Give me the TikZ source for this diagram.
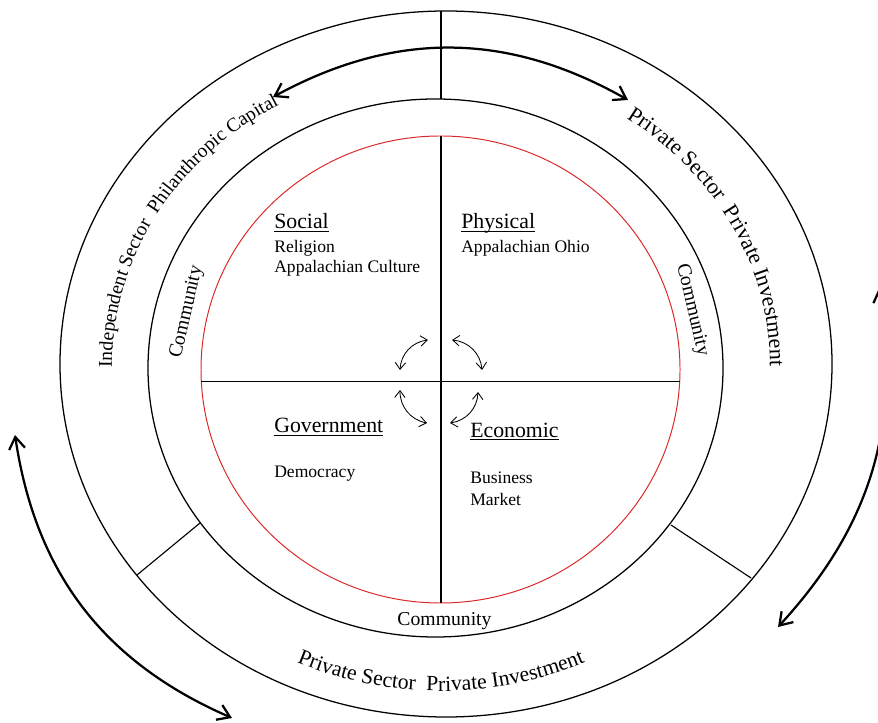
\documentclass[tikz,border=0pt]{standalone}
\usepackage{fontspec}
\setmainfont{Liberation Serif}
\usetikzlibrary{arrows.meta,decorations.text}

\definecolor{ringred}{RGB}{220,40,40}

\newcommand{\headfont}{\fontsize{15.5}{18}\selectfont}
\newcommand{\itemfont}{\fontsize{12.5}{15}\selectfont}
\newcommand{\commfont}{\fontsize{14}{16}\selectfont}
\newcommand{\sectorfontA}{\fontsize{13.9}{16}\selectfont}
\newcommand{\sectorfontB}{\fontsize{15.6}{18}\selectfont}
\newcommand{\sectorfontC}{\fontsize{15.4}{18}\selectfont}

\tikzset{
  ring/.style={draw=black, line width=0.9pt},
  innerring/.style={draw=ringred, line width=0.7pt},
  divider/.style={draw=black, line width=0.8pt},
  bigarrow/.style={line width=1.6pt,
    {Straight Barb[length=3mm,width=4mm]}-{Straight Barb[length=3mm,width=4mm]}},
  smallarrow/.style={line width=0.6pt,
    {Straight Barb[length=1.7mm,width=2.6mm]}-{Straight Barb[length=1.7mm,width=2.6mm]}},
  head/.style={anchor=base west, inner sep=0pt, font=\headfont},
  item/.style={anchor=base west, inner sep=0pt, font=\itemfont},
  community/.style={inner sep=0pt, font=\commfont},
}

\begin{document}
\begin{tikzpicture}[x=0.025cm, y=0.025cm]
\useasboundingbox (0,0) rectangle (878,722);

% centres of the rings
\coordinate (cin) at (440.5,352.5);
\coordinate (cmid) at (435.5,354);
\coordinate (cout) at (446,358);
\coordinate (ctxt) at (441,356);

\draw[ring] (cout) ellipse [x radius=386, y radius=353];
\draw[ring] (cmid) ellipse [x radius=287.5, y radius=269];
\draw[innerring] (cin) ellipse [x radius=239.5, y radius=233.5];

% the four fields
\coordinate (qtop) at (441,586);
\coordinate (qbot) at (441,119);
\coordinate (qleft) at (201,340.5);
\coordinate (qright) at (680,340.5);
\draw[divider] (qtop) -- (qbot);
\draw[divider] (qleft) -- (qright);

% sector borders in the outer ring
\coordinate (dtopin) at (441,623);
\coordinate (dtopout) at (441,711);
\coordinate (dleftin) at (200,199);
\coordinate (dleftout) at (137,147);
\coordinate (drightin) at (671,197);
\coordinate (drightout) at (751,144);
\draw[divider] (dtopin) -- (dtopout);
\draw[divider] (dleftin) -- (dleftout);
\draw[divider] (drightin) -- (drightout);

% flows between the sectors
\coordinate (atopL) at (273,625);
\coordinate (atopR) at (628,622);
\draw[bigarrow] (atopL) to[bend left=29] (atopR);
\coordinate (aleftT) at (15,287);
\coordinate (aleftB) at (232,4);
\draw[bigarrow] (aleftT) to[bend right=29] (aleftB);
\coordinate (arightT) at (879,434);
\coordinate (arightB) at (778,95);
\draw[bigarrow] (arightT) to[bend left=26] (arightB);

% links between the fields
\coordinate (sNWa) at (428,382);
\coordinate (sNWb) at (400,352);
\draw[smallarrow] (sNWa) to[bend right=40] (sNWb);
\coordinate (sNEa) at (452,382);
\coordinate (sNEb) at (482,352);
\draw[smallarrow] (sNEa) to[bend left=40] (sNEb);
\coordinate (sSWa) at (400,332);
\coordinate (sSWb) at (427,299);
\draw[smallarrow] (sSWa) to[bend right=40] (sSWb);
\coordinate (sSEa) at (478,330);
\coordinate (sSEb) at (450,299);
\draw[smallarrow] (sSEa) to[bend left=40] (sSEb);

% field labels
\node[head] (social) at (274,493) {\underline{\smash{Social}}};
\node[item] (religion) at (274,469) {Religion};
\node[item] (culture) at (274,449) {Appalachian Culture};
\node[head] (physical) at (461,493) {\underline{\smash{Physical}}};
\node[item] (ohio) at (461,469) {Appalachian Ohio};
\node[head] (government) at (274,289) {\underline{\smash{Government}}};
\node[item] (democracy) at (274,244) {Democracy};
\node[head] (economic) at (470,284.5) {\underline{\smash{Economic}}};
\node[item] (business) at (470,238) {Business};
\node[item] (market) at (470,216) {Market};

% community ring
\node[community, rotate=77] (commW) at (187,410) {Community};
\node[community, rotate=-77] (commE) at (692,412) {Community};
\node[community, anchor=base] (commS) at (444.5,97) {Community};

% sector names along the outer ring
\path[decorate, decoration={text along path, text align=center,
    text={|\sectorfontA|Independent Sector~ Philanthropic Capital}}]
  ([shift={(211:329 and 300)}]ctxt) arc[start angle=211, end angle=91, x radius=329, y radius=300];
\path[decorate, decoration={text along path, text align=center,
    text={|\sectorfontB|Private Sector~ Private Investment}}]
  ([shift={(77:329 and 300)}]ctxt) arc[start angle=77, end angle=-23, x radius=329, y radius=300];
\path[decorate, decoration={text along path, text align=center,
    text={|\sectorfontC|Private Sector~ Private Investment}}]
  ([shift={(200:351 and 325)}]ctxt) arc[start angle=200, end angle=340, x radius=351, y radius=325];

\end{tikzpicture}
\end{document}
